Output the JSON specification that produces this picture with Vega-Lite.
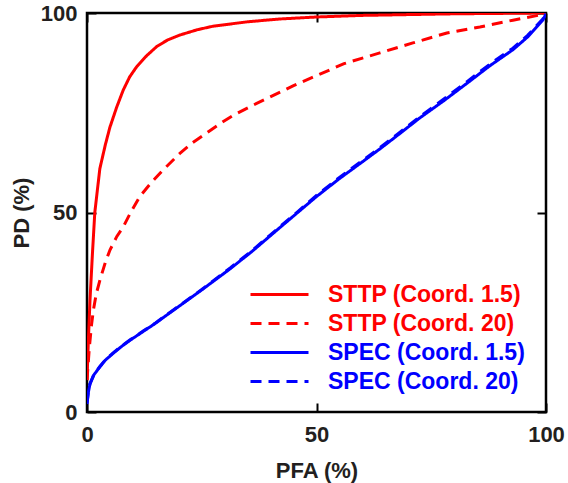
{
  "$schema": "https://vega.github.io/schema/vega-lite/v6.json",
  "width": 459,
  "height": 399,
  "autosize": {"type": "none"},
  "padding": {"left": 87, "top": 13, "right": 22, "bottom": 71},
  "config": {
    "font": "Liberation Sans",
    "view": {"stroke": "black", "strokeWidth": 2.5},
    "axis": {
      "domain": false,
      "grid": false,
      "labelFlush": false,
      "tickColor": "black",
      "tickWidth": 2,
      "tickSize": -9,
      "labelFont": "Liberation Sans",
      "labelFontWeight": "bold",
      "labelFontSize": 22,
      "labelColor": "#231f20",
      "titleFont": "Liberation Sans",
      "titleFontWeight": "bold",
      "titleFontSize": 22,
      "titleColor": "#231f20"
    }
  },
  "datasets": {
    "curves": [
      {"series": "STTP (Coord. 1.5)", "pfa": 0, "pd": 8},
      {"series": "STTP (Coord. 1.5)", "pfa": 0.3, "pd": 18},
      {"series": "STTP (Coord. 1.5)", "pfa": 0.65, "pd": 28},
      {"series": "STTP (Coord. 1.5)", "pfa": 1.2, "pd": 40},
      {"series": "STTP (Coord. 1.5)", "pfa": 1.7, "pd": 50},
      {"series": "STTP (Coord. 1.5)", "pfa": 2.8, "pd": 61},
      {"series": "STTP (Coord. 1.5)", "pfa": 4, "pd": 67},
      {"series": "STTP (Coord. 1.5)", "pfa": 5, "pd": 71.4},
      {"series": "STTP (Coord. 1.5)", "pfa": 6.5, "pd": 76.5},
      {"series": "STTP (Coord. 1.5)", "pfa": 7.9, "pd": 80.7},
      {"series": "STTP (Coord. 1.5)", "pfa": 9.3, "pd": 84},
      {"series": "STTP (Coord. 1.5)", "pfa": 10.8, "pd": 86.5},
      {"series": "STTP (Coord. 1.5)", "pfa": 13, "pd": 89.3},
      {"series": "STTP (Coord. 1.5)", "pfa": 15.2, "pd": 91.6},
      {"series": "STTP (Coord. 1.5)", "pfa": 17.5, "pd": 93.2},
      {"series": "STTP (Coord. 1.5)", "pfa": 20.3, "pd": 94.5},
      {"series": "STTP (Coord. 1.5)", "pfa": 24, "pd": 95.8},
      {"series": "STTP (Coord. 1.5)", "pfa": 27.5, "pd": 96.7},
      {"series": "STTP (Coord. 1.5)", "pfa": 35, "pd": 97.8},
      {"series": "STTP (Coord. 1.5)", "pfa": 42, "pd": 98.5},
      {"series": "STTP (Coord. 1.5)", "pfa": 50, "pd": 99},
      {"series": "STTP (Coord. 1.5)", "pfa": 60, "pd": 99.4},
      {"series": "STTP (Coord. 1.5)", "pfa": 70, "pd": 99.6},
      {"series": "STTP (Coord. 1.5)", "pfa": 80, "pd": 99.8},
      {"series": "STTP (Coord. 1.5)", "pfa": 90, "pd": 99.9},
      {"series": "STTP (Coord. 1.5)", "pfa": 100, "pd": 100},
      {"series": "STTP (Coord. 20)", "pfa": 0, "pd": 8},
      {"series": "STTP (Coord. 20)", "pfa": 0.5, "pd": 16},
      {"series": "STTP (Coord. 20)", "pfa": 1, "pd": 22},
      {"series": "STTP (Coord. 20)", "pfa": 1.4, "pd": 25.6},
      {"series": "STTP (Coord. 20)", "pfa": 2, "pd": 29.5},
      {"series": "STTP (Coord. 20)", "pfa": 2.8, "pd": 33},
      {"series": "STTP (Coord. 20)", "pfa": 4, "pd": 37.5},
      {"series": "STTP (Coord. 20)", "pfa": 5, "pd": 40.6},
      {"series": "STTP (Coord. 20)", "pfa": 6.5, "pd": 44},
      {"series": "STTP (Coord. 20)", "pfa": 7.9, "pd": 46.4},
      {"series": "STTP (Coord. 20)", "pfa": 9.5, "pd": 50},
      {"series": "STTP (Coord. 20)", "pfa": 11.5, "pd": 54},
      {"series": "STTP (Coord. 20)", "pfa": 14, "pd": 57.5},
      {"series": "STTP (Coord. 20)", "pfa": 16.6, "pd": 60.7},
      {"series": "STTP (Coord. 20)", "pfa": 20.3, "pd": 64.9},
      {"series": "STTP (Coord. 20)", "pfa": 23, "pd": 67.5},
      {"series": "STTP (Coord. 20)", "pfa": 26, "pd": 69.9},
      {"series": "STTP (Coord. 20)", "pfa": 29, "pd": 72.3},
      {"series": "STTP (Coord. 20)", "pfa": 31.9, "pd": 74.4},
      {"series": "STTP (Coord. 20)", "pfa": 35.5, "pd": 76.5},
      {"series": "STTP (Coord. 20)", "pfa": 39.2, "pd": 78.6},
      {"series": "STTP (Coord. 20)", "pfa": 45, "pd": 81.8},
      {"series": "STTP (Coord. 20)", "pfa": 50, "pd": 84.3},
      {"series": "STTP (Coord. 20)", "pfa": 56, "pd": 87.3},
      {"series": "STTP (Coord. 20)", "pfa": 63.8, "pd": 90},
      {"series": "STTP (Coord. 20)", "pfa": 71, "pd": 92.5},
      {"series": "STTP (Coord. 20)", "pfa": 78.4, "pd": 95},
      {"series": "STTP (Coord. 20)", "pfa": 85.6, "pd": 96.5},
      {"series": "STTP (Coord. 20)", "pfa": 92.8, "pd": 98.2},
      {"series": "STTP (Coord. 20)", "pfa": 100, "pd": 99.8},
      {"series": "SPEC (Coord. 1.5)", "pfa": 0, "pd": 2},
      {"series": "SPEC (Coord. 1.5)", "pfa": 0.3, "pd": 5},
      {"series": "SPEC (Coord. 1.5)", "pfa": 0.65, "pd": 7},
      {"series": "SPEC (Coord. 1.5)", "pfa": 1.5, "pd": 9.3},
      {"series": "SPEC (Coord. 1.5)", "pfa": 2.8, "pd": 11.3},
      {"series": "SPEC (Coord. 1.5)", "pfa": 4, "pd": 13},
      {"series": "SPEC (Coord. 1.5)", "pfa": 5.7, "pd": 14.7},
      {"series": "SPEC (Coord. 1.5)", "pfa": 7.5, "pd": 16.4},
      {"series": "SPEC (Coord. 1.5)", "pfa": 9.4, "pd": 18},
      {"series": "SPEC (Coord. 1.5)", "pfa": 12, "pd": 20},
      {"series": "SPEC (Coord. 1.5)", "pfa": 15, "pd": 22.3},
      {"series": "SPEC (Coord. 1.5)", "pfa": 17.5, "pd": 24.4},
      {"series": "SPEC (Coord. 1.5)", "pfa": 20.3, "pd": 26.7},
      {"series": "SPEC (Coord. 1.5)", "pfa": 25, "pd": 30.6},
      {"series": "SPEC (Coord. 1.5)", "pfa": 31.2, "pd": 35.9},
      {"series": "SPEC (Coord. 1.5)", "pfa": 36, "pd": 40.3},
      {"series": "SPEC (Coord. 1.5)", "pfa": 42, "pd": 46.2},
      {"series": "SPEC (Coord. 1.5)", "pfa": 46, "pd": 50.1},
      {"series": "SPEC (Coord. 1.5)", "pfa": 50, "pd": 54},
      {"series": "SPEC (Coord. 1.5)", "pfa": 55, "pd": 58.5},
      {"series": "SPEC (Coord. 1.5)", "pfa": 60, "pd": 62.7},
      {"series": "SPEC (Coord. 1.5)", "pfa": 64, "pd": 66.1},
      {"series": "SPEC (Coord. 1.5)", "pfa": 67.5, "pd": 69.2},
      {"series": "SPEC (Coord. 1.5)", "pfa": 72.5, "pd": 73.7},
      {"series": "SPEC (Coord. 1.5)", "pfa": 77.6, "pd": 77.9},
      {"series": "SPEC (Coord. 1.5)", "pfa": 82.8, "pd": 82.4},
      {"series": "SPEC (Coord. 1.5)", "pfa": 87.8, "pd": 86.8},
      {"series": "SPEC (Coord. 1.5)", "pfa": 92.8, "pd": 90.8},
      {"series": "SPEC (Coord. 1.5)", "pfa": 96, "pd": 94},
      {"series": "SPEC (Coord. 1.5)", "pfa": 99.3, "pd": 98.2},
      {"series": "SPEC (Coord. 1.5)", "pfa": 100, "pd": 99.8},
      {"series": "SPEC (Coord. 20)", "pfa": 0, "pd": 2.2},
      {"series": "SPEC (Coord. 20)", "pfa": 0.3, "pd": 5.2},
      {"series": "SPEC (Coord. 20)", "pfa": 0.65, "pd": 7.1},
      {"series": "SPEC (Coord. 20)", "pfa": 1.5, "pd": 9.4},
      {"series": "SPEC (Coord. 20)", "pfa": 2.8, "pd": 11.4},
      {"series": "SPEC (Coord. 20)", "pfa": 4, "pd": 13.1},
      {"series": "SPEC (Coord. 20)", "pfa": 5.7, "pd": 14.8},
      {"series": "SPEC (Coord. 20)", "pfa": 7.5, "pd": 16.5},
      {"series": "SPEC (Coord. 20)", "pfa": 9.4, "pd": 18.1},
      {"series": "SPEC (Coord. 20)", "pfa": 12, "pd": 20.1},
      {"series": "SPEC (Coord. 20)", "pfa": 15, "pd": 22.4},
      {"series": "SPEC (Coord. 20)", "pfa": 17.5, "pd": 24.5},
      {"series": "SPEC (Coord. 20)", "pfa": 20.3, "pd": 26.8},
      {"series": "SPEC (Coord. 20)", "pfa": 25, "pd": 30.7},
      {"series": "SPEC (Coord. 20)", "pfa": 31.2, "pd": 36.1},
      {"series": "SPEC (Coord. 20)", "pfa": 36, "pd": 40.5},
      {"series": "SPEC (Coord. 20)", "pfa": 42, "pd": 46.4},
      {"series": "SPEC (Coord. 20)", "pfa": 46, "pd": 50.3},
      {"series": "SPEC (Coord. 20)", "pfa": 50, "pd": 54.3},
      {"series": "SPEC (Coord. 20)", "pfa": 55, "pd": 58.8},
      {"series": "SPEC (Coord. 20)", "pfa": 60, "pd": 63},
      {"series": "SPEC (Coord. 20)", "pfa": 64, "pd": 66.4},
      {"series": "SPEC (Coord. 20)", "pfa": 67.5, "pd": 69.5},
      {"series": "SPEC (Coord. 20)", "pfa": 72.5, "pd": 74},
      {"series": "SPEC (Coord. 20)", "pfa": 77.6, "pd": 78.3},
      {"series": "SPEC (Coord. 20)", "pfa": 82.8, "pd": 82.8},
      {"series": "SPEC (Coord. 20)", "pfa": 87.8, "pd": 87.2},
      {"series": "SPEC (Coord. 20)", "pfa": 92.8, "pd": 91.2},
      {"series": "SPEC (Coord. 20)", "pfa": 96, "pd": 94.4},
      {"series": "SPEC (Coord. 20)", "pfa": 99.3, "pd": 98.5},
      {"series": "SPEC (Coord. 20)", "pfa": 100, "pd": 99.8}
    ],
    "frame": [
      {"pfa": 0, "pd": 0},
      {"pfa": 100, "pd": 100}
    ]
  },
  "layer": [
    {
      "data": {"name": "curves"},
      "mark": {"type": "line", "strokeWidth": 3, "clip": true},
      "encoding": {
        "x": {
          "field": "pfa",
          "type": "quantitative",
          "scale": {"domain": [0, 100], "nice": false, "zero": false},
          "axis": {"orient": "bottom", "values": [0, 50, 100], "title": "PFA (%)", "labelPadding": 21, "titlePadding": 15}
        },
        "y": {
          "field": "pd",
          "type": "quantitative",
          "scale": {"domain": [0, 100], "nice": false, "zero": false},
          "axis": {"orient": "left", "values": [0, 50, 100], "title": "PD (%)", "labelPadding": 19, "titlePadding": 7}
        },
        "color": {
          "field": "series",
          "type": "nominal",
          "sort": ["STTP (Coord. 1.5)", "STTP (Coord. 20)", "SPEC (Coord. 1.5)", "SPEC (Coord. 20)"],
          "scale": {
            "domain": ["STTP (Coord. 1.5)", "STTP (Coord. 20)", "SPEC (Coord. 1.5)", "SPEC (Coord. 20)"],
            "range": ["#ff0000", "#ff0000", "#0000ff", "#0000ff"]
          },
          "legend": {
            "title": null,
            "orient": "none",
            "legendX": 181,
            "legendY": 270,
            "symbolType": "M-5.8,0H5.8",
            "symbolSize": 100,
            "symbolStrokeWidth": 3,
            "symbolFillColor": "transparent",
            "labelFont": "Liberation Sans",
            "labelFontWeight": "bold",
            "labelFontSize": 23,
            "labelOffset": 37,
            "labelLimit": 400,
            "rowPadding": 5,
            "encode": {
              "labels": {
                "update": {
                  "fill": {"signal": "indexof(datum.label, 'STTP') >= 0 ? '#ff0000' : '#0000ff'"}
                }
              }
            }
          }
        },
        "strokeDash": {
          "field": "series",
          "type": "nominal",
          "sort": ["STTP (Coord. 1.5)", "STTP (Coord. 20)", "SPEC (Coord. 1.5)", "SPEC (Coord. 20)"],
          "scale": {
            "domain": ["STTP (Coord. 1.5)", "STTP (Coord. 20)", "SPEC (Coord. 1.5)", "SPEC (Coord. 20)"],
            "range": [[1, 0], [11, 7], [1, 0], [11, 7]]
          }
        }
      }
    },
    {
      "data": {"name": "frame"},
      "mark": {"type": "point", "opacity": 0},
      "encoding": {
        "x": {
          "field": "pfa",
          "type": "quantitative",
          "axis": {"orient": "top", "values": [0, 50, 100], "labels": false, "title": null}
        },
        "y": {
          "field": "pd",
          "type": "quantitative",
          "axis": {"orient": "right", "values": [0, 50, 100], "labels": false, "title": null}
        }
      }
    }
  ],
  "resolve": {"axis": {"x": "independent", "y": "independent"}}
}
